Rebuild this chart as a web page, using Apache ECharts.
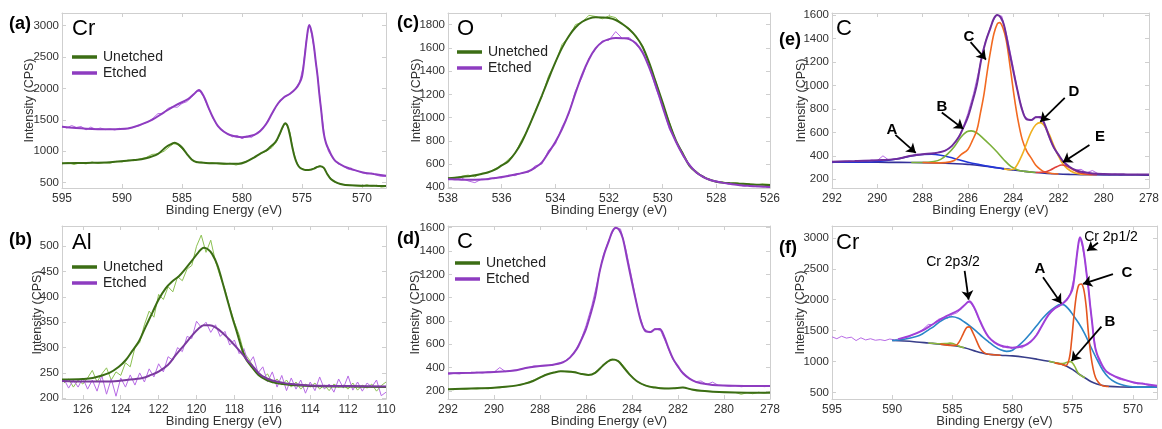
<!DOCTYPE html>
<html>
<head>
<meta charset="utf-8">
<script src="https://cdn.jsdelivr.net/npm/echarts@6/dist/echarts.min.js"></script>
<style>
  html, body { margin: 0; padding: 0; background: #fff; }
  #chart { width: 1162px; height: 429px; }
</style>
</head>
<body>
<div id="chart"></div>
<script>
// sample grid of binding energies (descending)
function steps(from, to, step) {
  var out = [];
  for (var i = 0; from - i * step >= to - 1e-9; i++) out.push(+(from - i * step).toFixed(2));
  return out;
}
function pairs(xs, ys) { return xs.map(function (x, i) { return [x, ys[i]]; }); }

// ---------- (a) Cr 2p, unetched / etched ----------
var crTicksX = [595, 590, 585, 580, 575, 570];
var crTicksY = [500, 1000, 1500, 2000, 2500, 3000];
var crUnetchedFit = [[595,810],[593,815],[591,825],[589,860],[588,890],[587,960],[586.3,1073],[585.8,1125],[585.6,1137],[585.3,1110],[585,1060],[584.6,960],[584.2,870],[583.8,830],[583,815],[582,808],[581,800],[580.3,800],[579.7,830],[579,900],[578.5,960],[578,1010],[577.7,1060],[577.2,1150],[576.9,1260],[576.6,1390],[576.4,1446],[576.2,1400],[576,1250],[575.8,1060],[575.6,900],[575.4,800],[575.2,745],[575,720],[574.7,702],[574.3,705],[574,725],[573.7,752],[573.5,762],[573.2,740],[572.9,640],[572.6,560],[572.2,510],[571.8,480],[571.4,465],[570.5,455],[569,450],[568,448]];
var crUnetchedRaw = [[595,800],[594.5,820],[594,790],[593.5,815],[593,800],[592.5,830],[592,805],[591.5,820],[591,810],[590.5,840],[590,830],[589.5,860],[589,850],[588.5,880],[588,900],[587.5,950],[587,960],[586.5,1000],[586,1080],[585.7,1120],[585.4,1110],[585,1040],[584.6,960],[584.2,880],[583.8,820],[583.4,830],[583,810],[582.5,820],[582,800],[581.5,790],[581,810],[580.5,780],[580,810],[579.5,850],[579,900],[578.5,960],[578,1000],[577.5,1060],[577.1,1160],[576.8,1290],[576.5,1420],[576.3,1430],[576,1300],[575.8,1070],[575.5,850],[575.2,740],[574.9,720],[574.5,700],[574.1,720],[573.8,750],[573.5,770],[573.2,730],[572.8,620],[572.4,520],[572,490],[571.5,470],[571,460],[570.5,450],[570,440],[569.6,470],[569.2,440],[568.8,460],[568.4,430],[568,440]];
var crEtchedFit = [[595,1390],[593,1360],[591,1350],[589.5,1363],[588.5,1420],[587.5,1500],[586.5,1620],[585.5,1735],[584.5,1830],[584,1910],[583.6,1975],[583.2,1880],[582.8,1700],[582.4,1530],[582,1400],[581.5,1310],[581,1260],[580,1225],[579,1260],[578.5,1320],[578,1430],[577.5,1600],[577,1760],[576.5,1860],[576,1915],[575.5,2000],[575.2,2090],[575,2190],[574.8,2470],[574.6,2800],[574.4,3010],[574.2,2900],[574,2660],[573.85,2420],[573.7,2190],[573.55,1900],[573.4,1650],[573.2,1300],[573,1130],[572.75,1020],[572.5,920],[572.2,840],[571.5,760],[571,725],[570,668],[569,638],[568,610]];
var crEtchedRaw = [[595,1400],[594.6,1370],[594.2,1410],[593.8,1380],[593.4,1395],[593,1340],[592.6,1385],[592.2,1350],[591.8,1370],[591.4,1345],[591,1355],[590.6,1340],[590.2,1365],[589.8,1350],[589.4,1370],[589,1385],[588.6,1400],[588.2,1440],[587.8,1470],[587.4,1530],[587,1600],[586.6,1600],[586.2,1680],[585.8,1710],[585.4,1700],[585,1760],[584.6,1790],[584.2,1860],[583.8,1960],[583.5,1950],[583.2,1870],[582.8,1690],[582.4,1520],[582,1390],[581.6,1320],[581.2,1280],[580.8,1230],[580.4,1250],[580,1200],[579.6,1240],[579.2,1220],[578.8,1290],[578.4,1340],[578,1440],[577.6,1560],[577.2,1700],[576.8,1800],[576.4,1870],[576,1910],[575.6,1980],[575.2,2100],[574.9,2350],[574.6,2820],[574.4,3010],[574.2,2860],[574,2650],[573.7,2200],[573.4,1650],[573.1,1200],[572.8,1000],[572.4,880],[572,800],[571.6,770],[571.2,720],[570.8,700],[570.4,690],[570,660],[569.6,640],[569.2,650],[568.8,620],[568.4,600],[568,600]];

// ---------- (b) Al 2s ----------
var alTicksX = [126, 124, 122, 120, 118, 116, 114, 112, 110];
var alTicksY = [200, 250, 300, 350, 400, 450, 500];
var alEnergy = steps(127, 110, 0.25);
var alUnetchedRaw = [230,238,222,236,228,240,255,232,248,260,236,252,245,270,262,300,310,345,372,360,405,395,420,410,440,432,455,462,500,522,488,512,470,440,415,380,350,325,290,278,262,250,240,248,230,238,226,236,222,232,218,228,222,230,218,226,215,228,222,226,218,230,216,226,220,228,214,225,232];
var alEtchedRaw = [238,220,236,222,240,218,236,214,245,208,238,204,240,222,246,226,250,232,258,242,268,252,282,275,300,292,322,318,352,340,350,330,345,322,332,305,315,288,298,268,282,250,262,232,252,222,245,215,240,218,236,210,232,215,242,218,228,212,238,220,244,216,232,214,230,222,236,205,212];
var alUnetchedFit = [[127.1,237],[126,238],[125.48,240],[124.6,250],[124.1,262],[123.72,276],[123.4,293],[123.03,313],[122.7,340],[122.33,369],[122,395],[121.63,417],[121.3,430],[120.93,441],[120.6,455],[120.23,472],[119.9,488],[119.62,497],[119.4,494],[119.18,485],[118.9,463],[118.66,433],[118.4,398],[118.13,362],[117.85,328],[117.61,298],[117.4,278],[117.17,266],[116.73,246],[116.3,236],[115.8,230],[115,226],[114,224],[112,223],[110,222]];
var alEtchedFit = [[127.1,234],[126,233],[125,233],[124.6,233],[123.7,236],[122.85,240],[122.4,246],[121.98,253],[121.5,266],[121.1,285],[120.65,305],[120.23,324],[119.9,337],[119.62,344],[119.3,344],[119,340],[118.65,330],[118.3,317],[117.95,303],[117.6,288],[117.3,274],[117.09,266],[116.73,250],[116.4,241],[116,235],[115.5,231],[115,228],[114,225],[112,224],[110,223]];

// ---------- (c) O 1s ----------
var oTicksX = [538, 536, 534, 532, 530, 528, 526];
var oTicksY = [400, 600, 800, 1000, 1200, 1400, 1600, 1800];
var oEnergy = steps(538, 526, 0.25);
var oUnetchedFit = [477,482,489,496,503,515,530,552,588,625,695,790,915,1050,1190,1335,1475,1600,1700,1775,1825,1852,1863,1862,1857,1840,1805,1760,1700,1610,1470,1300,1130,950,800,690,585,530,492,465,448,440,436,433,430,426,423,421,420];
var oUnetchedRaw = [480,475,495,505,490,520,525,560,585,640,690,810,905,1060,1180,1360,1470,1630,1690,1800,1820,1880,1870,1850,1875,1860,1800,1770,1690,1620,1460,1310,1120,960,790,700,580,540,485,470,445,445,430,440,425,430,420,430,425];
var oEtchedFit = [470,468,466,465,466,468,472,480,488,498,510,522,538,570,615,700,790,900,1040,1210,1370,1500,1595,1650,1675,1685,1683,1675,1640,1560,1430,1270,1090,920,790,680,590,530,490,465,450,438,430,422,416,412,408,405,403];
var oEtchedRaw = [475,470,480,455,440,470,465,485,480,505,500,525,530,585,600,720,770,920,1030,1230,1350,1510,1590,1660,1665,1740,1680,1690,1630,1570,1440,1250,1100,900,800,670,600,520,500,460,455,440,425,430,410,420,405,410,400];

// ---------- (d) C 1s, unetched / etched ----------
var cTicksX = [292, 290, 288, 286, 284, 282, 280, 278];
var cTicksY = [200, 400, 600, 800, 1000, 1200, 1400, 1600];
var cEnergy = steps(292, 278, 0.25);
var cUnetchedRaw = [212,210,218,212,220,215,222,218,228,225,235,240,245,258,275,295,320,340,350,365,368,360,365,345,335,340,375,420,455,470,445,385,320,275,250,240,232,225,222,220,228,230,215,205,200,198,195,190,192,188,186,170,185,175,188,180,190];
var cEtchedRaw = [340,350,345,355,350,360,352,365,360,400,365,375,380,390,400,415,410,415,420,432,445,480,530,620,760,930,1140,1360,1500,1600,1590,1400,1160,900,740,700,735,715,600,480,400,335,305,278,285,255,275,248,245,238,245,235,242,238,242,236,240];
var cUnetchedFit = [[292,214],[291,220],[290,227],[289.5,235],[289,247],[288.7,260],[288.3,285],[288,313],[287.7,340],[287.4,357],[287.1,368],[286.8,367],[286.5,360],[286.2,345],[285.9,337],[285.6,355],[285.3,410],[285.1,445],[284.85,468],[284.6,455],[284.4,410],[284.15,350],[283.8,285],[283.4,245],[283,228],[282.6,220],[282.2,222],[281.8,228],[281.4,212],[281,200],[280.5,193],[280,188],[279,184],[278,183]];
var cEtchedFit = [[292,350],[291,355],[290,362],[289.2,372],[288.5,400],[288,414],[287.5,422],[287,445],[286.7,485],[286.4,560],[286.2,640],[286,730],[285.8,860],[285.6,1010],[285.4,1230],[285.2,1380],[285,1490],[284.85,1570],[284.7,1600],[284.55,1580],[284.4,1510],[284.2,1320],[284,1130],[283.8,950],[283.6,790],[283.4,710],[283.2,705],[283,728],[282.8,730],[282.6,665],[282.4,560],[282.2,470],[282,410],[281.8,355],[281.5,305],[281.2,275],[281,265],[280.5,250],[280,245],[279,242],[278,241]];

// ---------- (e) C 1s components (etched) ----------
var cBackground = [[292,345],[290,345],[289,344],[288,342],[287,337],[286.5,333],[286,327],[285.5,319],[285,306],[284.5,292],[284,279],[283.5,268],[283,258],[282.5,250],[282,245],[281.5,242],[281,240],[280,238],[279,237],[278,236]];
var cPeakA = [[292,345],[290.5,347],[290,352],[289.5,362],[289,378],[288.5,398],[288,411],[287.6,413],[287.2,405],[286.8,388],[286.4,366],[286,346],[285.5,326],[285,308],[284.5,293],[284,279]];
var cPeakB = [[288.5,343],[288,343],[287.5,352],[287.2,370],[286.9,415],[286.6,478],[286.3,560],[286.05,605],[285.85,613],[285.6,595],[285.3,545],[285,490],[284.7,430],[284.4,365],[284.1,310],[283.8,280],[283.5,268],[283,258]];
var cPeakC = [[288,343],[287.5,340],[287,342],[286.6,360],[286.3,410],[286,455],[285.8,530],[285.6,620],[285.45,760],[285.3,910],[285.15,1110],[285,1290],[284.85,1440],[284.7,1525],[284.6,1535],[284.45,1490],[284.3,1380],[284.12,1140],[283.95,900],[283.8,720],[283.6,540],[283.4,440],[283.2,380],[283,320],[282.8,285],[282.6,262],[282.3,250],[282,245]];
var cPeakD = [[284.4,289],[284.1,281],[283.9,300],[283.6,410],[283.4,510],[283.2,605],[283,665],[282.8,683],[282.6,650],[282.4,580],[282.2,485],[282,400],[281.8,330],[281.6,290],[281.3,255],[281,243],[280.5,239]];
var cPeakE = [[283,258],[282.6,262],[282.35,280],[282.1,305],[281.85,322],[281.6,310],[281.35,282],[281.1,258],[280.8,245],[280.3,239]];
var cLabelsE = ['A', 'B', 'C', 'D', 'E'];
var cArrowsE = [[[289.2,578],[288.3,425]],[[287.15,770],[286.2,630]],[[285.88,1369],[285.2,1220]],[[281.72,893],[282.8,690]],[[280.63,492],[281.8,345]]];

// ---------- (f) Cr 2p components (etched) ----------
var crBackground = [[590,1340],[589,1332],[588,1318],[587,1300],[586,1282],[585,1260],[584,1225],[583,1165],[582.5,1138],[582,1118],[581,1103],[580,1092],[579,1070],[578,1040],[577,1005],[576,960],[575.5,926],[575,870],[574.5,800],[574,740],[573.5,680],[573,640],[572.5,615],[572,600],[571,590],[570,588],[568,588]];
var crPeakA = [[590,1340],[589,1362],[588,1405],[587.5,1445],[587,1510],[586.5,1575],[586,1650],[585.5,1705],[585,1725],[584.5,1700],[584,1640],[583.5,1570],[583,1490],[582.5,1400],[582,1320],[581.5,1245],[581,1190],[580.5,1165],[580,1185],[579.5,1260],[579,1350],[578.5,1460],[578,1580],[577.5,1700],[577,1800],[576.5,1875],[576,1925],[575.7,1915],[575.3,1840],[575,1760],[574.5,1620],[574,1450],[573.5,1240],[573,1040],[572.5,860],[572,740],[571.5,670],[571,630],[570.5,605],[570,592],[569,588],[568,588]];
var crPeakB1 = [[587,1300],[586.5,1292],[586,1288],[585.6,1290],[585.2,1298],[584.9,1290],[584.6,1262],[584.2,1232],[584,1225]];
var crPeakB2 = [[577,1005],[576.5,985],[576,970],[575.7,975],[575.4,995],[575.2,1000],[575,975],[574.8,910],[574.6,830],[574.4,785],[574,740]];
var crPeakC1 = [[586,1282],[585,1262],[584.7,1265],[584.4,1330],[584.1,1450],[583.8,1555],[583.6,1562],[583.3,1470],[583,1340],[582.7,1215],[582.4,1150],[582,1118],[581,1103]];
var crPeakC2 = [[576.5,980],[576,960],[575.6,935],[575.3,1040],[575.1,1330],[574.9,1740],[574.7,2070],[574.5,2235],[574.3,2255],[574.1,2180],[573.9,1920],[573.7,1470],[573.5,1110],[573.3,880],[573.1,740],[572.9,675],[572.6,615],[572.3,602],[572,598]];
var crArrowsF = [[[583.98,2467],[583.65,2000]],[[572.9,2920],[573.8,2790]],[[577.47,2362],[575.95,1940]],[[572.62,1564],[575.1,1010]],[[571.66,2415],[574.15,2255]]];

// ---------- styles ----------
var FONT = 'Liberation Sans, Arial, sans-serif';
var GREEN = '#3b6d14', GREEN_RAW = '#8cc152';
var PURPLE = '#8e3cc0', PURPLE_RAW = '#b86be6';
var FRAME = '#cfcfcf';

var panels = [
  { grid: { left: 62, top: 13, width: 324, height: 175 }, x: [568, 595], y: [416, 3200], tx: crTicksX, ty: crTicksY, gap: 26 },
  { grid: { left: 62, top: 226, width: 324, height: 175 }, x: [110, 127.1], y: [198.5, 540], tx: alTicksX, ty: alTicksY, gap: 18 },
  { grid: { left: 448, top: 13, width: 322, height: 175 }, x: [526, 538], y: [394, 1900], tx: oTicksX, ty: oTicksY, gap: 25 },
  { grid: { left: 448, top: 226, width: 322, height: 175 }, x: [278, 292], y: [130, 1615], tx: cTicksX, ty: cTicksY, gap: 26 },
  { grid: { left: 832, top: 13, width: 325, height: 175 }, x: [278, 292], y: [126, 1617], tx: cTicksX, ty: cTicksY, gap: 24 },
  { grid: { left: 832, top: 226, width: 325, height: 175 }, x: [568, 595], y: [396, 3191], tx: crTicksX, ty: crTicksY, gap: 25 }
];

function plain(v) { return String(v); }

var grids = [], xAxes = [], yAxes = [];
panels.forEach(function (p, i) {
  grids.push(p.grid);
  var line = { show: true, lineStyle: { color: FRAME, width: 1 } };
  var tickX = { show: true, inside: true, length: 4, customValues: p.tx, lineStyle: { color: FRAME } };
  var tickY = { show: true, inside: true, length: 4, customValues: p.ty, lineStyle: { color: FRAME } };
  xAxes.push({
    gridIndex: i, type: 'value', inverse: true, min: p.x[0], max: p.x[1], position: 'bottom',
    axisLine: line, axisTick: tickX, splitLine: { show: false },
    axisLabel: { customValues: p.tx, formatter: plain, color: '#333', fontSize: 12, fontFamily: FONT, margin: 5 },
    name: 'Binding Energy (eV)', nameLocation: 'middle', nameGap: 16, nameMoveOverlap: false,
    nameTextStyle: { color: '#333', fontSize: 13, fontFamily: FONT }
  });
  xAxes.push({
    gridIndex: i, type: 'value', inverse: true, min: p.x[0], max: p.x[1], position: 'top',
    axisLine: line, axisTick: tickX, axisLabel: { show: false }, splitLine: { show: false }
  });
  yAxes.push({
    gridIndex: i, type: 'value', min: p.y[0], max: p.y[1], position: 'left',
    axisLine: line, axisTick: tickY, splitLine: { show: false },
    axisLabel: { customValues: p.ty, formatter: plain, color: '#333', fontSize: 11.5, fontFamily: FONT, margin: 3 },
    name: 'Intensity (CPS)', nameLocation: 'middle', nameGap: p.gap, nameMoveOverlap: false,
    nameTextStyle: { color: '#333', fontSize: 12.5, fontFamily: FONT }
  });
  yAxes.push({
    gridIndex: i, type: 'value', min: p.y[0], max: p.y[1], position: 'right',
    axisLine: line, axisTick: tickY, axisLabel: { show: false }, splitLine: { show: false }
  });
});

function curve(gi, name, data, color, width, smooth, z) {
  return {
    type: 'line', name: name, xAxisIndex: gi * 2, yAxisIndex: gi * 2, data: data,
    showSymbol: false, symbol: 'none', silent: true, animation: false, z: z || 2,
    smooth: smooth ? 0.35 : false, emphasis: { disabled: true },
    lineStyle: { color: color, width: width }, itemStyle: { color: color }
  };
}
function arrows(list) {
  return {
    silent: true, animation: false, symbol: ['none', 'arrow'], symbolSize: 9,
    label: { show: false }, emphasis: { disabled: true },
    lineStyle: { color: '#000', width: 1.8, type: 'solid' },
    data: list.map(function (a) { return [{ coord: a[0] }, { coord: a[1] }]; })
  };
}

var series = [
  // (a)
  curve(0, 'Unetched raw', crUnetchedRaw, GREEN_RAW, 1, false, 1),
  curve(0, 'Etched raw', crEtchedRaw, PURPLE_RAW, 1, false, 1),
  curve(0, 'Unetched', crUnetchedFit, GREEN, 2, true, 3),
  curve(0, 'Etched', crEtchedFit, PURPLE, 2, true, 3),
  // (b)
  curve(1, 'Unetched raw', pairs(alEnergy, alUnetchedRaw), GREEN_RAW, 1, false, 1),
  curve(1, 'Etched raw', pairs(alEnergy, alEtchedRaw), PURPLE_RAW, 1, false, 1),
  curve(1, 'Unetched', alUnetchedFit, GREEN, 2, true, 3),
  curve(1, 'Etched', alEtchedFit, '#7b3a9e', 2, true, 3),
  // (c)
  curve(2, 'Unetched raw', pairs(oEnergy, oUnetchedRaw), GREEN_RAW, 1, false, 1),
  curve(2, 'Etched raw', pairs(oEnergy, oEtchedRaw), PURPLE_RAW, 1, false, 1),
  curve(2, 'Unetched', pairs(oEnergy, oUnetchedFit), GREEN, 2, true, 3),
  curve(2, 'Etched', pairs(oEnergy, oEtchedFit), PURPLE, 2, true, 3),
  // (d)
  curve(3, 'Unetched raw', pairs(cEnergy, cUnetchedRaw), GREEN_RAW, 1, false, 1),
  curve(3, 'Etched raw', pairs(cEnergy, cEtchedRaw), PURPLE_RAW, 1, false, 1),
  curve(3, 'Unetched', cUnetchedFit, GREEN, 2, true, 3),
  curve(3, 'Etched', cEtchedFit, PURPLE, 2, true, 3),
  // (e)
  curve(4, 'C raw', pairs(cEnergy, cEtchedRaw), PURPLE_RAW, 1, false, 1),
  curve(4, 'C background', cBackground, '#33309a', 1.6, true, 2),
  curve(4, 'C peak A', cPeakA, '#2336d8', 1.6, true, 2),
  curve(4, 'C peak B', cPeakB, '#7bb03a', 1.6, true, 2),
  curve(4, 'C peak C', cPeakC, '#f26a21', 1.6, true, 2),
  curve(4, 'C peak D', cPeakD, '#f0b020', 1.6, true, 2),
  curve(4, 'C peak E', cPeakE, '#e0413a', 1.6, true, 2),
  Object.assign(curve(4, 'C envelope', cEtchedFit, '#6f2d9c', 2, true, 3), { markLine: arrows(cArrowsE) }),
  // (f)
  curve(5, 'Cr raw', crEtchedRaw, PURPLE_RAW, 1, false, 1),
  curve(5, 'Cr background', crBackground, '#383e8a', 1.6, true, 2),
  curve(5, 'Cr peak A', crPeakA, '#2a86c8', 1.6, true, 2),
  curve(5, 'Cr peak B', crPeakB1, '#8cb83c', 1.6, true, 2),
  curve(5, 'Cr peak B', crPeakB2, '#8cb83c', 1.6, true, 2),
  curve(5, 'Cr peak C', crPeakC1, '#e4561e', 1.6, true, 2),
  curve(5, 'Cr peak C', crPeakC2, '#e4561e', 1.6, true, 2),
  Object.assign(curve(5, 'Cr envelope', crEtchedFit.filter(function (d) { return d[0] <= 590; }), '#a040d8', 2, true, 3), { markLine: arrows(crArrowsF) })
];

function legendAt(left, top) {
  return {
    data: ['Unetched', 'Etched'], left: left, top: top, orient: 'vertical', padding: 0,
    icon: 'rect', itemWidth: 25, itemHeight: 3.5, itemGap: 2, selectedMode: false,
    textStyle: { color: '#222', fontSize: 14, fontFamily: FONT, padding: [0, 0, 0, 1] }
  };
}

function label(text, x, y, size, bold) {
  return {
    type: 'text', x: x, y: y, silent: true,
    style: { text: text, font: (bold ? 'bold ' : '') + size + 'px ' + FONT, fill: '#000',
             align: 'left', verticalAlign: 'middle' }
  };
}
function centered(text, x, y, size, bold) {
  var g = label(text, x, y, size, bold);
  g.style.align = 'center';
  return g;
}

var graphics = [
  label('(a)', 9, 24, 18, true), label('(b)', 9, 240, 18, true),
  label('(c)', 397, 23, 18, true), label('(d)', 397, 239, 18, true),
  label('(e)', 779, 40, 18, true), label('(f)', 779, 248, 18, true),
  label('Cr', 72, 29, 22), label('Al', 72, 243, 22),
  label('O', 457, 29, 22), label('C', 457, 242, 22),
  label('C', 836, 29, 22), label('Cr', 836, 243, 22),
  centered(cLabelsE[0], 892, 130, 15, true), centered(cLabelsE[1], 942, 107, 15, true),
  centered(cLabelsE[2], 969, 37, 15, true), centered(cLabelsE[3], 1074, 92, 15, true),
  centered(cLabelsE[4], 1100, 137, 15, true),
  centered('Cr 2p3/2', 953, 262, 14), centered('Cr 2p1/2', 1111, 237, 14),
  centered('A', 1040, 269, 15, true), centered('B', 1110, 322, 15, true), centered('C', 1127, 273, 15, true)
];

var chart = echarts.init(document.getElementById('chart'), null, { renderer: 'canvas' });
chart.setOption({
  animation: false,
  backgroundColor: '#fff',
  grid: grids,
  xAxis: xAxes,
  yAxis: yAxes,
  legend: [legendAt(72, 50), legendAt(72, 260), legendAt(457, 45), legendAt(455, 256)],
  series: series,
  graphic: graphics
});
</script>
</body>
</html>
